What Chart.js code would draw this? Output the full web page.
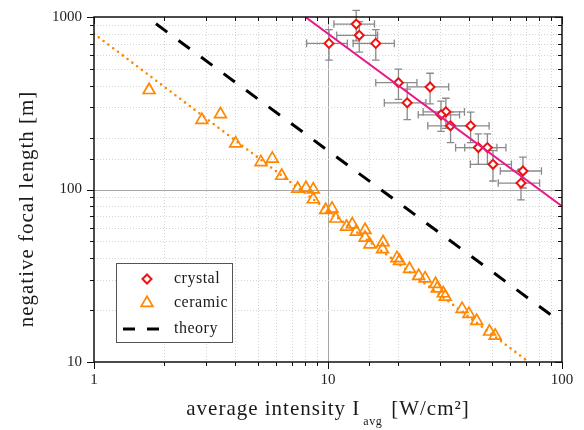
<!DOCTYPE html>
<html>
<head>
<meta charset="utf-8">
<script src="https://cdn.jsdelivr.net/npm/chart.js@4.4.1/dist/chart.umd.min.js"></script>
<style>
  html, body { margin: 0; padding: 0; background: #fff; }
  #wrap { width: 584px; height: 430px; }
</style>
</head>
<body>
<div id="wrap"><canvas id="focalChart" width="584" height="430"></canvas></div>
<script>
// crystal: average intensity [W/cm²] vs negative focal length [m], with abs. errors
const crystalX = [10.1, 13.2, 13.6, 16.0, 20.0, 27.3, 21.8, 31.9, 30.4, 33.4, 40.7, 43.9, 48.0, 50.7, 68.1, 66.8];
const crystalY = [703, 910, 783, 703, 416, 393, 318, 282, 271, 234, 234, 175, 175, 140, 128, 109];
const crystalXErr = [2.0, 2.6, 2.7, 3.2, 4.0, 5.5, 4.4, 6.4, 6.1, 6.7, 8.1, 8.8, 9.6, 10.1, 13.6, 13.4];
const crystalYErr = [141, 182, 157, 141, 83, 79, 64, 56, 54, 47, 47, 35, 35, 28, 26, 22];

// ceramic measurements
const ceramicX = [1.72, 2.89, 3.47, 4.03, 5.17, 5.78, 6.34, 7.42, 8.05, 8.65, 8.65, 9.77, 10.4, 10.8,
  12.0, 12.7, 13.2, 14.4, 14.4, 15.1, 17.2, 17.1, 19.7, 20.2, 22.3, 24.4, 26.0, 28.8, 29.3, 31.1,
  31.7, 37.4, 40.0, 43.2, 49.0, 51.8];
const ceramicY = [377, 253, 273, 185, 144, 151, 120, 101, 102, 100, 87.7, 76, 77.4, 67.8,
  60.8, 62.8, 56.9, 58.2, 52.6, 48.0, 49.4, 45.0, 40.0, 38.5, 34.6, 31.5, 30.5, 28.3, 26.7, 25.0,
  23.9, 20.3, 19.0, 17.3, 15.0, 14.2];

// fitted lines and theory (end points)
const crystalFitX = [8, 100];
const crystalFitY = [1000, 80];
const ceramicFitX = [1, 70];
const ceramicFitY = [800, 10.3];
const theoryX = [1.84, 100];
const theoryY = [913, 16.8];

const xRange = [1, 100];
const yRange = [10, 1000];

const SERIF = "'Liberation Serif', 'DejaVu Serif', serif";
const RED = '#ee1111';
const ORANGE = '#ff8800';
const PINK = '#e8178a';

const pts = (xs, ys) => xs.map((v, i) => ({ x: v, y: ys[i] }));
const isDecade = v => Math.abs(Math.log10(v) - Math.round(Math.log10(v))) < 1e-9;

function line(ctx, x0, y0, x1, y1) {
  ctx.beginPath();
  ctx.moveTo(x0, y0);
  ctx.lineTo(x1, y1);
  ctx.stroke();
}

// grid behind everything: dotted minor lines, solid gray decade lines
const gridPlugin = {
  id: 'gridLines',
  beforeDatasetsDraw(chart) {
    const { ctx, chartArea: a, scales: { x, y } } = chart;
    ctx.save();
    ctx.lineWidth = 1;
    x.ticks.forEach(t => {
      if (t.value <= xRange[0] || t.value >= xRange[1]) return;
      const px = Math.round(x.getPixelForValue(t.value)) + 0.5;
      if (isDecade(t.value)) { ctx.setLineDash([]); ctx.strokeStyle = '#a6a6a6'; }
      else { ctx.setLineDash([1, 2]); ctx.strokeStyle = '#d4d4d4'; }
      line(ctx, px, a.top, px, a.bottom);
    });
    y.ticks.forEach(t => {
      if (t.value <= yRange[0] || t.value >= yRange[1]) return;
      const py = Math.round(y.getPixelForValue(t.value)) + 0.5;
      if (isDecade(t.value)) { ctx.setLineDash([]); ctx.strokeStyle = '#a6a6a6'; }
      else { ctx.setLineDash([1, 2]); ctx.strokeStyle = '#d4d4d4'; }
      line(ctx, a.left, py, a.right, py);
    });
    ctx.restore();
  }
};

// x and y error bars for the crystal points
const errorBars = {
  id: 'errorBars',
  beforeDatasetsDraw(chart) {
    const { ctx, scales: { x, y } } = chart;
    const cap = 3.8;
    ctx.save();
    ctx.strokeStyle = '#8a8a8a';
    ctx.lineWidth = 1.3;
    crystalX.forEach((xv, i) => {
      const yv = crystalY[i];
      const px = x.getPixelForValue(xv), py = y.getPixelForValue(yv);
      const xl = x.getPixelForValue(xv - crystalXErr[i]), xr = x.getPixelForValue(xv + crystalXErr[i]);
      const yt = y.getPixelForValue(yv + crystalYErr[i]), yb = y.getPixelForValue(yv - crystalYErr[i]);
      ctx.beginPath();
      ctx.moveTo(xl, py); ctx.lineTo(xr, py);
      ctx.moveTo(xl, py - cap); ctx.lineTo(xl, py + cap);
      ctx.moveTo(xr, py - cap); ctx.lineTo(xr, py + cap);
      ctx.moveTo(px, yt); ctx.lineTo(px, yb);
      ctx.moveTo(px - cap, yt); ctx.lineTo(px + cap, yt);
      ctx.moveTo(px - cap, yb); ctx.lineTo(px + cap, yb);
      ctx.stroke();
    });
    ctx.restore();
  }
};

// box frame, tick marks, axis titles and legend
const framePlugin = {
  id: 'frame',
  afterDraw(chart) {
    const { ctx, chartArea: a, scales: { x, y } } = chart;
    ctx.save();
    ctx.strokeStyle = '#111';
    ctx.lineWidth = 1;
    x.ticks.forEach(t => {
      const px = Math.round(x.getPixelForValue(t.value)) + 0.5;
      const len = isDecade(t.value) ? 7 : 4;
      line(ctx, px, a.bottom, px, a.bottom + len);
      line(ctx, px, a.top, px, a.top + len);
    });
    y.ticks.forEach(t => {
      const py = Math.round(y.getPixelForValue(t.value)) + 0.5;
      const len = isDecade(t.value) ? 7 : 4;
      line(ctx, a.left - len, py, a.left, py);
      line(ctx, a.right - len, py, a.right, py);
    });
    ctx.lineWidth = 1.5;
    ctx.strokeRect(a.left, a.top, a.right - a.left, a.bottom - a.top);

    // axis titles
    ctx.fillStyle = '#1a1a1a';
    ctx.textBaseline = 'alphabetic';
    ctx.letterSpacing = '1px';
    ctx.font = '21px ' + SERIF;
    const t1 = 'average intensity I';
    const t2 = '[W/cm²]';
    const w1 = ctx.measureText(t1).width;
    const w2 = ctx.measureText(t2).width;
    ctx.font = '12px ' + SERIF;
    ctx.letterSpacing = '0.5px';
    const ws = ctx.measureText('avg').width;
    const total = w1 + 3 + ws + 9 + w2;
    let cx = (a.left + a.right) / 2 - total / 2;
    ctx.fillText('avg', cx + w1 + 3, 425);
    ctx.font = '21px ' + SERIF;
    ctx.letterSpacing = '1px';
    ctx.fillText(t1, cx, 415);
    ctx.fillText(t2, cx + w1 + 3 + ws + 9, 415);

    ctx.save();
    ctx.translate(27, 209);
    ctx.rotate(-Math.PI / 2);
    ctx.textAlign = 'center';
    ctx.textBaseline = 'middle';
    ctx.fillText('negative focal length [m]', 0, 0);
    ctx.restore();

    // legend
    const lx = 116, ly = 263, lw = 116, lh = 79;
    ctx.fillStyle = '#fff';
    ctx.fillRect(lx, ly, lw, lh);
    ctx.strokeStyle = '#555';
    ctx.lineWidth = 1;
    ctx.strokeRect(lx + 0.5, ly + 0.5, lw, lh);

    const mx = 147;
    const rows = [279, 303, 329];
    // diamond
    const d = 4.5;
    ctx.strokeStyle = RED;
    ctx.lineWidth = 2;
    ctx.beginPath();
    ctx.moveTo(mx - d, rows[0]); ctx.lineTo(mx, rows[0] - d);
    ctx.lineTo(mx + d, rows[0]); ctx.lineTo(mx, rows[0] + d);
    ctx.closePath();
    ctx.stroke();
    // triangle
    const r = 6.8;
    ctx.strokeStyle = ORANGE;
    ctx.lineWidth = 1.7;
    ctx.beginPath();
    ctx.moveTo(mx, rows[1] - r);
    ctx.lineTo(mx + r * Math.sin(Math.PI / 3), rows[1] + r / 2);
    ctx.lineTo(mx - r * Math.sin(Math.PI / 3), rows[1] + r / 2);
    ctx.closePath();
    ctx.stroke();
    // dashed theory sample
    ctx.strokeStyle = '#000';
    ctx.lineWidth = 3;
    line(ctx, 123, rows[2], 135, rows[2]);
    line(ctx, 147, rows[2], 159, rows[2]);

    ctx.fillStyle = '#1a1a1a';
    ctx.font = '16px ' + SERIF;
    ctx.letterSpacing = '0.5px';
    ctx.textAlign = 'left';
    ctx.textBaseline = 'middle';
    ctx.fillText('crystal', 174, rows[0]);
    ctx.fillText('ceramic', 174, rows[1]);
    ctx.fillText('theory', 174, rows[2]);
    ctx.restore();
  }
};

const tickFont = { family: SERIF, size: 15 };

new Chart(document.getElementById('focalChart'), {
  type: 'scatter',
  data: {
    datasets: [
      {
        label: 'crystal fit',
        data: pts(crystalFitX, crystalFitY),
        showLine: true,
        borderColor: PINK,
        borderWidth: 2,
        pointRadius: 0
      },
      {
        label: 'crystal',
        data: pts(crystalX, crystalY),
        pointStyle: 'rectRot',
        pointRadius: 4.5,
        borderWidth: 2,
        borderColor: RED,
        backgroundColor: '#fff'
      },
      {
        label: 'ceramic fit',
        data: pts(ceramicFitX, ceramicFitY),
        showLine: true,
        borderColor: ORANGE,
        borderWidth: 2.6,
        borderDash: [0, 6],
        borderCapStyle: 'round',
        pointRadius: 0
      },
      {
        label: 'ceramic',
        data: pts(ceramicX, ceramicY),
        pointStyle: 'triangle',
        pointRadius: 6.8,
        borderWidth: 1.7,
        borderColor: ORANGE,
        backgroundColor: 'rgba(255,255,255,0)'
      },
      {
        label: 'theory',
        data: pts(theoryX, theoryY),
        showLine: true,
        borderColor: '#000',
        borderWidth: 3,
        borderDash: [14, 14],
        pointRadius: 0
      }
    ]
  },
  options: {
    responsive: false,
    animation: false,
    devicePixelRatio: 1,
    layout: { padding: { top: 17, right: 22, left: 0, bottom: 0 } },
    plugins: { legend: { display: false }, tooltip: { enabled: false } },
    scales: {
      x: {
        type: 'logarithmic',
        min: xRange[0],
        max: xRange[1],
        grid: { display: false, drawTicks: false },
        border: { display: false },
        ticks: {
          autoSkip: false,
          maxRotation: 0,
          padding: 9,
          color: '#222',
          font: tickFont,
          callback: v => (isDecade(v) ? String(v) : '')
        },
        afterFit: s => { s.height = 68; }
      },
      y: {
        type: 'logarithmic',
        min: yRange[0],
        max: yRange[1],
        grid: { display: false, drawTicks: false },
        border: { display: false },
        ticks: {
          autoSkip: false,
          padding: 12,
          color: '#222',
          font: tickFont,
          callback: v => (isDecade(v) ? String(v) : '')
        },
        // fixed axis width; the top label may overhang into the page margin
        afterFit: s => { s.width = 94; s.paddingTop = 0; s.paddingBottom = 0; }
      }
    }
  },
  plugins: [gridPlugin, errorBars, framePlugin]
});
</script>
</body>
</html>
